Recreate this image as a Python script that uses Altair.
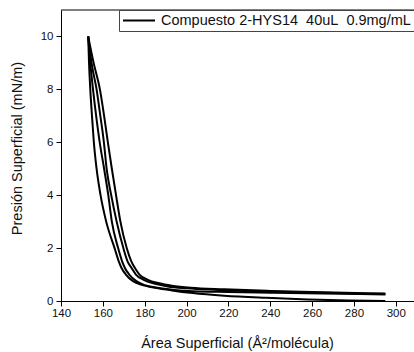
import altair as alt
import pandas as pd

# Curve A (leftmost, ends at 0)
a_x = [153.0, 153.4, 154.0, 154.8, 155.7, 157.0, 158.9, 161.6, 165.6, 167.6, 169.0, 171.0, 174.4, 179.0, 185.0, 193.0, 203.0, 218.0, 238.0, 258.0, 278.0, 295.0]
a_y = [10.0, 9.0, 8.0, 7.0, 6.0, 5.0, 4.0, 3.0, 2.0, 1.5, 1.24, 1.0, 0.75, 0.6, 0.5, 0.4, 0.3, 0.2, 0.12, 0.06, 0.02, 0.0]
# Curve B
b_x = [153.0, 154.0, 155.3, 156.8, 158.5, 160.6, 162.6, 164.3, 167.3, 169.2, 170.6, 172.6, 176.0, 180.0, 186.0, 194.0, 203.0, 220.0, 240.0, 265.0, 295.0]
b_y = [10.0, 9.0, 8.0, 7.0, 6.0, 5.0, 4.0, 3.0, 2.0, 1.5, 1.24, 1.0, 0.75, 0.6, 0.5, 0.42, 0.37, 0.34, 0.31, 0.28, 0.25]
# Curve C
c_x = [153.0, 154.6, 157.0, 158.8, 160.5, 161.8, 164.0, 166.6, 169.8, 171.8, 173.8, 175.8, 179.5, 185.0, 191.0, 200.0, 215.0, 240.0, 265.0, 295.0]
c_y = [10.0, 9.0, 8.0, 7.0, 6.0, 5.0, 4.0, 3.0, 2.0, 1.5, 1.24, 1.0, 0.8, 0.65, 0.55, 0.48, 0.42, 0.36, 0.31, 0.26]
# Curve D (rightmost)
d_x = [153.0, 155.6, 158.6, 160.6, 162.4, 164.3, 166.3, 168.4, 171.4, 173.6, 175.4, 177.5, 181.5, 187.0, 193.0, 202.0, 218.0, 240.0, 265.0, 295.0]
d_y = [10.0, 9.0, 8.0, 7.0, 6.0, 5.0, 4.0, 3.0, 2.0, 1.5, 1.24, 1.0, 0.8, 0.67, 0.58, 0.5, 0.44, 0.38, 0.33, 0.28]

series_label = "Compuesto 2-HYS14\u00a0\u00a040uL\u00a0\u00a00.9mg/mL"
x_ticks = list(range(140, 310, 10))
y_ticks = list(range(0, 11, 1))
x_min, x_max = 140, 308.7
y_min, y_max = 0, 11

rows = []
for cid, xs, ys in [("A", a_x, a_y), ("B", b_x, b_y), ("C", c_x, c_y), ("D", d_x, d_y)]:
    for i, (x, y) in enumerate(zip(xs, ys)):
        rows.append({"curve": cid, "x": x, "y": y, "ord": i, "serie": series_label})
df = pd.DataFrame(rows)

FONT = "Liberation Sans"

xscale = alt.Scale(domain=[x_min, x_max], nice=False, zero=False)
yscale = alt.Scale(domain=[y_min, y_max], nice=False, zero=False)

x_axis = alt.Axis(
    values=x_ticks,
    labelExpr="datum.value % 20 == 0 ? datum.label : ''",
    tickSize={"condition": {"test": "datum.value % 20 != 0", "value": 3}, "value": 5},
    grid=False, domainColor="black", tickColor="black", labelColor="#111",
    labelFont=FONT, labelFontSize=11.5, labelPadding=1, labelFlush=False,
    title="Área Superficial (Å²/molécula)", titleFont=FONT, titleFontSize=14.5,
    titleFontWeight="normal", titleColor="#111", titleX=176, titleY=42,
    titleBaseline="middle", titleAlign="center",
)
y_axis = alt.Axis(
    values=y_ticks,
    labelExpr="datum.value % 2 == 0 ? datum.label : ''",
    tickSize={"condition": {"test": "datum.value % 2 != 0", "value": 3}, "value": 5},
    grid=False, domainColor="black", tickColor="black", labelColor="#111",
    labelFont=FONT, labelFontSize=11.5, labelPadding=3, labelFlush=False,
    title="Presión Superficial (mN/m)", titleFont=FONT, titleFontSize=14.5,
    titleFontWeight="normal", titleColor="#111", titleX=-44, titleY=138,
    titleAngle=270, titleBaseline="middle", titleAlign="center",
)

lines = alt.Chart(df).mark_line(strokeWidth=2, interpolate="monotone").encode(
    x=alt.X("x:Q", scale=xscale, axis=x_axis),
    y=alt.Y("y:Q", scale=yscale, axis=y_axis),
    detail="curve:N",
    order="ord:Q",
    color=alt.Color("serie:N", scale=alt.Scale(range=["black"]),
                    legend=alt.Legend(title=None, orient="none", legendX=58, legendY=0,
                                      symbolType="stroke", symbolSize=1024, symbolStrokeWidth=2,
                                      symbolStrokeColor="black", clipHeight=15,
                                      labelFont=FONT, labelFontSize=14.5, labelColor="#111",
                                      labelLimit=0, labelOffset=5,
                                      padding=3, strokeColor="#444", fillColor="white")),
)

frame_df = pd.DataFrame({"x1": [x_min], "x2": [x_max], "y": [y_max]})
frame = alt.Chart(frame_df).mark_rule(color="black", strokeWidth=1).encode(
    x=alt.X("x1:Q", scale=xscale), x2="x2:Q", y=alt.Y("y:Q", scale=yscale)
)

chart = alt.layer(frame, lines).properties(
    width=353, height=291,
    padding={"left": 61, "top": 10, "right": 0, "bottom": 51},
    autosize=alt.AutoSizeParams(type="none"),
    background="white",
).configure_view(stroke=None)

chart.save("out.html", embed_options={"renderer": "svg", "actions": False})
